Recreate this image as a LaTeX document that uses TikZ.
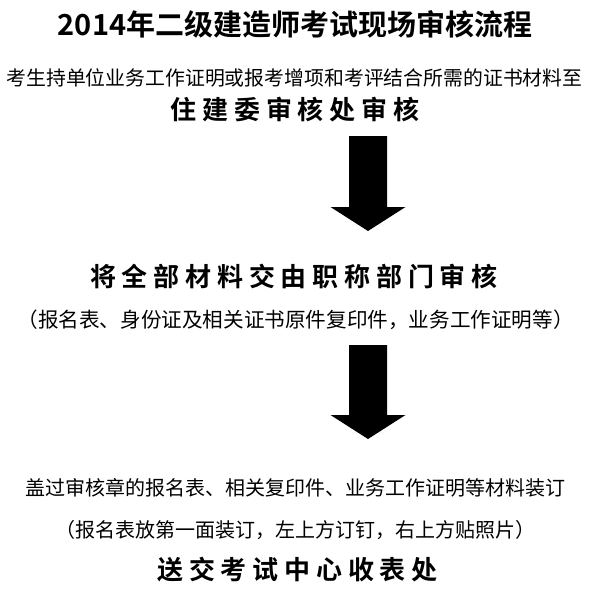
\documentclass[tikz,border=0pt]{standalone}
\usepackage{fontspec}
\usepackage{graphicx}
\newfontfamily\cjk{Noto Sans CJK SC}
\newfontfamily\cjkbold{Noto Sans CJK SC Bold}
\newcommand\gap{\hspace{5.8pt}}
\tikzset{
  x=1pt, y=-1pt,
  title/.style={inner sep=0pt, anchor=center, font=\cjkbold\fontsize{29}{32}\selectfont},
  plain/.style={inner sep=0pt, anchor=center, font=\cjk\fontsize{20.6}{24}\selectfont},
  plainsm/.style={inner sep=0pt, anchor=center, font=\cjk\fontsize{20}{24}\selectfont},
  stage/.style={inner sep=0pt, anchor=center, font=\cjkbold\fontsize{26}{30}\selectfont},
  blockarrow/.style={fill=black, draw=none}
}
\begin{document}
\begin{tikzpicture}
\useasboundingbox[fill=white] (0,0) rectangle (590,599);
\node[title] (ttl) at (295,24.5) {2014年二级建造师考试现场审核流程};
\node[plain] (l1) at (294.5,78) {\resizebox{576pt}{!}{考生持单位业务工作证明或报考增项和考评结合所需的证书材料至}};
\node[stage] (s1) at (295,110) {住\gap 建\gap 委\gap 审\gap 核\gap 处\gap 审\gap 核};
\node[stage] (s2) at (294,276) {将\gap 全\gap 部\gap 材\gap 料\gap 交\gap 由\gap 职\gap 称\gap 部\gap 门\gap 审\gap 核};
\node[plain] (l2) at (295.5,320) {（报名表、身份证及相关证书原件复印件，业务工作证明等）};
\node[plainsm] (l3) at (295,488) {盖过审核章的报名表、相关复印件、业务工作证明等材料装订};
\node[plainsm] (l4) at (295,530) {（报名表放第一面装订，左上方订钉，右上方贴照片）};
\node[stage] (s3) at (297.5,570) {送\gap 交\gap 考\gap 试\gap 中\gap 心\gap 收\gap 表\gap 处};
% block arrows
\coordinate (a1) at (368,136);
\coordinate (a2) at (368,345);
\fill[blockarrow] (a1) ++(-19,0) -- ++(38,0) -- ++(0,71) -- ++(18.5,0) -- (368,231) -- (330.5,207) -- (349,207) -- cycle;
\fill[blockarrow] (a2) ++(-19,0) -- ++(38,0) -- ++(0,70) -- ++(18.5,0) -- (368,439) -- (330.5,415) -- (349,415) -- cycle;
\end{tikzpicture}
\end{document}
